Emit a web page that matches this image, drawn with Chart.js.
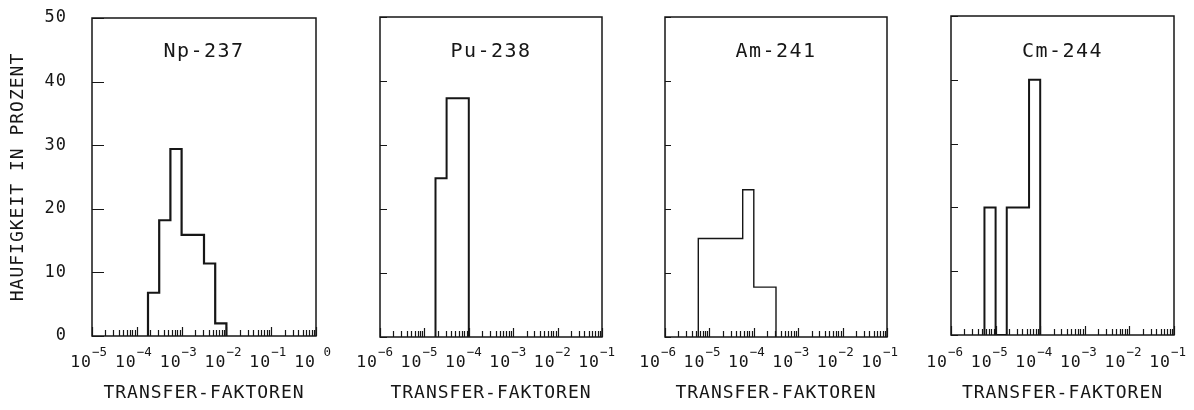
<!DOCTYPE html>
<html>
<head>
<meta charset="utf-8">
<title>Transfer-Faktoren</title>
<script src="https://cdn.jsdelivr.net/npm/chart.js@4.4.1/dist/chart.umd.min.js"></script>
<style>
  html, body { margin: 0; padding: 0; background: #fff; }
  #wrap { position: relative; width: 1194px; height: 410px; }
  #wrap canvas { position: absolute; left: 0; top: 0; }
</style>
</head>
<body>
<div id="wrap">
  <canvas id="np" width="1194" height="410"></canvas>
  <canvas id="pu" width="1194" height="410"></canvas>
  <canvas id="am" width="1194" height="410"></canvas>
  <canvas id="cm" width="1194" height="410"></canvas>
</div>
<script>
// Bin edges are log10 of the transfer factor (quarter-decade bins), heights in percent
const npEdges = [-3.75, -3.5, -3.25, -3.0, -2.75, -2.5, -2.25, -2.0];
const npPercent = [6.8, 18.2, 29.4, 15.9, 15.9, 11.4, 2.0];

const puEdges = [-4.75, -4.5, -4.25, -4.0];
const puPercent = [24.8, 37.3, 37.3];

const amEdges = [-5.25, -5.0, -4.75, -4.5, -4.25, -4.0, -3.75, -3.5];
const amPercent = [15.4, 15.4, 15.4, 15.4, 23.0, 7.8, 7.8];

const cmEdges = [-5.25, -5.0, -4.75, -4.5, -4.25, -4.0];
const cmPercent = [20, 0, 20, 20, 40];

// decade tick labels: 10 with a raised exponent
const npDecades = [-5, -4, -3, -2, -1, 0];
const npExpLabels = ['\u22125', '\u22124', '\u22123', '\u22122', '\u22121', ' 0'];
const otherDecades = [-6, -5, -4, -3, -2, -1];
const otherExpLabels = ['\u22126', '\u22125', '\u22124', '\u22123', '\u22122', '\u22121'];

const yMax = 50;
const yStep = 10;

const INK = '#161616';
const FONT = '"DejaVu Sans Mono", monospace';

Chart.defaults.font.family = FONT;
Chart.defaults.color = INK;

// step outline of a histogram: up at the first edge, across each bin, down at the last edge
function outline(edges, values) {
    const pts = [{ x: 10 ** edges[0], y: 0 }];
    values.forEach((v, i) => pts.push({ x: 10 ** edges[i], y: v }));
    pts.push({ x: 10 ** edges[edges.length - 1], y: 0 });
    return pts;
}

// frame, inward tick marks, decade labels and the nuclide name inside the box
const plotterFrame = {
    id: 'plotterFrame',
    beforeDraw(chart) {
        chart.ctx.letterSpacing = '1px';
    },
    afterDraw(chart, args, opts) {
        const { ctx, chartArea: a, scales: { x, y } } = chart;
        ctx.save();
        ctx.strokeStyle = INK;
        ctx.fillStyle = INK;

        ctx.lineWidth = 1.5;
        ctx.strokeRect(a.left, a.top, a.right - a.left, a.bottom - a.top);

        ctx.lineWidth = 1.2;
        ctx.beginPath();
        x.ticks.forEach(t => {
            const px = Math.round(x.getPixelForValue(t.value)) + 0.5;
            ctx.moveTo(px, a.bottom);
            ctx.lineTo(px, a.bottom - (t.major ? 9 : 6));
        });
        y.ticks.forEach(t => {
            const py = Math.round(y.getPixelForValue(t.value)) + 0.5;
            ctx.moveTo(a.left, py);
            ctx.lineTo(a.left + opts.yTickLength, py);
        });
        ctx.stroke();

        opts.decades.forEach((d, i) => {
            const px = x.getPixelForValue(10 ** d);
            ctx.textBaseline = 'alphabetic';
            ctx.font = '16.5px ' + FONT;
            ctx.letterSpacing = '1px';
            ctx.textAlign = 'right';
            ctx.fillText('10', px + opts.labelShift, 367);
            ctx.font = '12.5px ' + FONT;
            ctx.letterSpacing = '0px';
            ctx.textAlign = 'left';
            ctx.fillText(opts.expLabels[i], px + opts.labelShift, 356);
        });

        ctx.font = '20px ' + FONT;
        ctx.letterSpacing = '1.5px';
        ctx.textAlign = 'center';
        ctx.fillText(opts.title, (a.left + a.right) / 2, 57);
        ctx.restore();
    }
};

const panels = [
    { id: 'np', title: 'Np-237', edges: npEdges, values: npPercent, decades: npDecades, expLabels: npExpLabels,
      area: { left: 92, right: 316, top: 18, bottom: 336 }, lineWidth: 2.2, yTickLength: 12, yLabels: true, labelShift: 0 },
    { id: 'pu', title: 'Pu-238', edges: puEdges, values: puPercent, decades: otherDecades, expLabels: otherExpLabels,
      area: { left: 380, right: 602, top: 17, bottom: 337 }, lineWidth: 2, yTickLength: 7, yLabels: false, labelShift: -2 },
    { id: 'am', title: 'Am-241', edges: amEdges, values: amPercent, decades: otherDecades, expLabels: otherExpLabels,
      area: { left: 665, right: 887, top: 17, bottom: 337 }, lineWidth: 1.4, yTickLength: 6, yLabels: false, labelShift: -4 },
    { id: 'cm', title: 'Cm-244', edges: cmEdges, values: cmPercent, decades: otherDecades, expLabels: otherExpLabels,
      area: { left: 951, right: 1174, top: 16, bottom: 335 }, lineWidth: 2, yTickLength: 7, yLabels: false, labelShift: -3 }
];

panels.forEach(p => {
    const ctx = document.getElementById(p.id).getContext('2d');
    const first = p.decades[0];
    const last = p.decades[p.decades.length - 1];

    new Chart(ctx, {
        type: 'line',
        data: {
            datasets: [{
                label: p.title,
                data: outline(p.edges, p.values),
                borderColor: INK,
                borderWidth: p.lineWidth,
                borderJoinStyle: 'miter',
                pointRadius: 0,
                stepped: true,
                fill: false
            }]
        },
        options: {
            responsive: false,
            animation: false,
            events: [],
            layout: {
                padding: { left: 0, top: p.area.top, right: 1194 - p.area.right, bottom: 0 }
            },
            scales: {
                x: {
                    type: 'logarithmic',
                    min: 10 ** first,
                    max: 10 ** last,
                    bounds: 'data',
                    grid: { display: false, drawTicks: false },
                    border: { display: false },
                    ticks: { display: false },
                    // every 1..9 x 10^n position, decades marked as major
                    afterBuildTicks(scale) {
                        const ticks = [];
                        for (let e = first; e < last; e++) {
                            for (let m = 1; m < 10; m++) {
                                ticks.push({ value: m * 10 ** e, major: m === 1 });
                            }
                        }
                        ticks.push({ value: 10 ** last, major: true });
                        scale.ticks = ticks;
                    },
                    afterFit(scale) {
                        scale.height = 410 - p.area.bottom;
                        scale.paddingLeft = 0;
                        scale.paddingRight = 0;
                    },
                    title: {
                        display: true,
                        text: 'TRANSFER-FAKTOREN',
                        color: INK,
                        font: { size: 18 },
                        padding: { top: 0, bottom: 6 }
                    }
                },
                y: {
                    type: 'linear',
                    min: 0,
                    max: yMax,
                    grid: { display: false, drawTicks: false },
                    border: { display: false },
                    ticks: {
                        display: p.yLabels,
                        stepSize: yStep,
                        padding: 25,
                        color: INK,
                        font: { size: 17 }
                    },
                    afterFit(scale) {
                        scale.width = p.area.left;
                        scale.paddingTop = 0;
                        scale.paddingBottom = 0;
                    },
                    title: {
                        display: p.yLabels,
                        text: 'HAUFIGKEIT IN PROZENT',
                        color: INK,
                        font: { size: 18 },
                        padding: { top: 8, bottom: 0 }
                    }
                }
            },
            plugins: {
                legend: { display: false },
                tooltip: { enabled: false },
                plotterFrame: {
                    title: p.title,
                    decades: p.decades,
                    expLabels: p.expLabels,
                    yTickLength: p.yTickLength,
                    labelShift: p.labelShift
                }
            }
        },
        plugins: [plotterFrame]
    });
});
</script>
</body>
</html>
